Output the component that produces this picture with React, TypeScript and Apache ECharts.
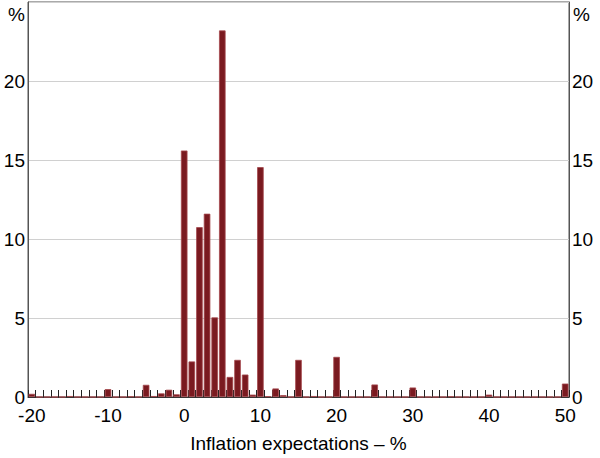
import React, { useEffect, useRef } from "react";
import * as echarts from "echarts";

const categories: string[] = [];
for (let v = -20; v <= 50; v++) categories.push(String(v));

// share of respondents (%) for each expected inflation value -20..50
const values: number[] = [
  0.2, 0, 0, 0, 0, 0.06, 0, 0, 0, 0, // -20..-11
  0.5, 0, 0, 0.04, 0, 0.77, 0.06, 0.23, 0.46, 0.17, // -10..-1
  15.6, 2.25, 10.75, 11.6, 5.04, 23.2, 1.27, 2.35, 1.42, 0.15, // 0..9
  14.55, 0.05, 0.54, 0.12, 0, 2.35, 0, 0.06, 0, 0, // 10..19
  2.54, 0, 0, 0, 0, 0.79, 0, 0, 0, 0, // 20..29
  0.6, 0, 0, 0, 0, 0.04, 0, 0, 0, 0, // 30..39
  0.15, 0, 0, 0, 0, 0, 0, 0, 0, 0, // 40..49
  0.85, // 50
];

const yTicks = [0, 5, 10, 15, 20];
const xTitle = "Inflation expectations – %";

export default function App() {
  const ref = useRef<HTMLDivElement>(null);
  useEffect(() => {
    if (!ref.current) return;
    const chart = echarts.init(ref.current, undefined, { renderer: "svg" });
    const font = "Arial, 'Liberation Sans', sans-serif";
    const yLabel = {
      fontSize: 19,
      color: "#000",
      fontFamily: font,
      margin: 3,
      formatter: (v: number) => (yTicks.includes(v) ? String(v) : ""),
    };
    chart.setOption({
      animation: false,
      grid: {
        left: 28,
        right: 31,
        top: 2,
        bottom: 57,
        show: true,
        borderColor: "#555",
        borderWidth: 1,
        backgroundColor: "transparent",
      },
      xAxis: {
        type: "category",
        data: categories,
        boundaryGap: true,
        axisLine: { show: true, lineStyle: { color: "#333", width: 1 } },
        axisTick: {
          show: true,
          inside: true,
          length: 7,
          interval: 0,
          lineStyle: { color: "#222", width: 1 },
        },
        axisLabel: {
          interval: (_i: number, val: string) => Number(val) % 10 === 0,
          fontSize: 19,
          color: "#000",
          fontFamily: font,
          margin: 9,
        },
        name: xTitle,
        nameLocation: "middle",
        nameGap: 37,
        nameTextStyle: { fontSize: 19, color: "#000", fontFamily: font },
        splitLine: { show: false },
      },
      yAxis: [
        {
          type: "value",
          min: 0,
          max: 25,
          interval: 5,
          position: "left",
          axisLine: { show: true, lineStyle: { color: "#555" } },
          axisTick: { show: false },
          axisLabel: yLabel,
          splitLine: { show: true, lineStyle: { color: "#d0d0d0", width: 1 } },
        },
        {
          type: "value",
          min: 0,
          max: 25,
          interval: 5,
          position: "right",
          axisLine: { show: true, lineStyle: { color: "#555" } },
          axisTick: { show: false },
          axisLabel: yLabel,
          splitLine: { show: false },
        },
      ],
      graphic: [
        {
          type: "text",
          left: 8,
          top: 5,
          style: { text: "%", fontSize: 19, fill: "#000", fontFamily: font },
        },
        {
          type: "text",
          left: 573,
          top: 5,
          style: { text: "%", fontSize: 19, fill: "#000", fontFamily: font },
        },
      ],
      series: [
        {
          type: "bar",
          data: values,
          yAxisIndex: 0,
          barCategoryGap: "14%",
          itemStyle: {
            color: "#7a1a20",
            borderColor: "#a4474c",
            borderWidth: 0.8,
          },
        },
      ],
    });
    return () => chart.dispose();
  }, []);
  return <div ref={ref} style={{ width: 600, height: 458, position: "absolute", left: 0, top: 0 }} />;
}
